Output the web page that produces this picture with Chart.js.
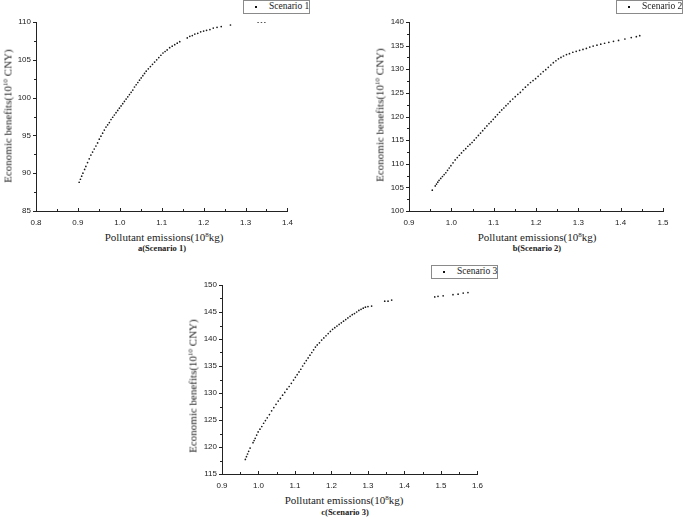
<!DOCTYPE html>
<html>
<head>
<meta charset="utf-8">
<script src="https://cdn.jsdelivr.net/npm/chart.js@4.4.1/dist/chart.umd.min.js"></script>
<style>
    body { margin: 0; background: #fff; width: 685px; height: 517px; position: relative; overflow: hidden; font-family: 'Liberation Serif', 'Times New Roman', serif; color: #222; }
    canvas { position: absolute; }
    .ttl { position: absolute; white-space: nowrap; font-size: 11px; line-height: 1; transform: translate(-50%, -50%); }
    .ttl.rot { transform: translate(-50%, -50%) rotate(-90deg); }
    .sub { position: absolute; white-space: nowrap; font-size: 8.5px; font-weight: bold; line-height: 1; transform: translate(-50%, -50%); }
    sup { font-size: 7px; vertical-align: 4px; line-height: 0; }
    .legend { position: absolute; box-sizing: border-box; border: 1px solid #8a8a8a; background: #fff; font-size: 9.5px; }
    .legend .dot { position: absolute; width: 2px; height: 2px; background: #111; }
    .legend .txt { position: absolute; white-space: nowrap; line-height: 1; }
</style>
</head>
<body>
<canvas id="chartA"></canvas>
<canvas id="chartB"></canvas>
<canvas id="chartC"></canvas>

<script>
// ---- data ----
const xTicks1 = [0.8, 0.9, 1.0, 1.1, 1.2, 1.3, 1.4];
const yTicks1 = [85, 90, 95, 100, 105, 110];
const xTicks2 = [0.9, 1.0, 1.1, 1.2, 1.3, 1.4, 1.5];
const yTicks2 = [100, 105, 110, 115, 120, 125, 130, 135, 140];
const xTicks3 = [0.9, 1.0, 1.1, 1.2, 1.3, 1.4, 1.5, 1.6];
const yTicks3 = [115, 120, 125, 130, 135, 140, 145, 150];

// Scenario 1
const scenario1X = [0.903, 0.906, 0.909, 0.912, 0.916, 0.919, 0.923, 0.927, 0.931, 0.935,
    0.939, 0.943, 0.947, 0.951, 0.955, 0.959, 0.963, 0.967, 0.971, 0.975,
    0.979, 0.983, 0.987, 0.991, 0.995, 0.999, 1.003, 1.007, 1.011, 1.015,
    1.019, 1.023, 1.027, 1.031, 1.035, 1.039, 1.043, 1.047, 1.051, 1.055,
    1.059, 1.063, 1.068, 1.073, 1.078, 1.083, 1.088, 1.093, 1.098, 1.103,
    1.108, 1.113, 1.119, 1.125, 1.131, 1.137, 1.143, 1.161, 1.167, 1.173,
    1.179, 1.186, 1.193, 1.200, 1.207, 1.215, 1.223, 1.232, 1.242, 1.264,
    1.330, 1.338, 1.346];
const scenario1Y = [88.8, 89.2, 89.6, 90.0, 90.5, 90.9, 91.4, 91.9, 92.4, 92.8,
    93.2, 93.6, 94.0, 94.5, 94.9, 95.3, 95.7, 96.1, 96.4, 96.7,
    97.1, 97.4, 97.7, 98.0, 98.3, 98.6, 98.9, 99.2, 99.5, 99.8,
    100.1, 100.4, 100.7, 101.0, 101.4, 101.7, 102.0, 102.3, 102.6, 102.9,
    103.2, 103.5, 103.8, 104.1, 104.4, 104.7, 105.0, 105.3, 105.6, 105.9,
    106.1, 106.3, 106.6, 106.8, 107.0, 107.2, 107.4, 107.9, 108.1, 108.2,
    108.4, 108.5, 108.7, 108.8, 108.9, 109.0, 109.2, 109.3, 109.4, 109.6,
    110.0, 110.0, 110.0];

// Scenario 2
const scenario2X = [0.955, 0.962, 0.965, 0.968, 0.971, 0.975, 0.979, 0.983, 0.987, 0.991,
    0.995, 0.999, 1.004, 1.009, 1.014, 1.019, 1.024, 1.029, 1.034, 1.039,
    1.044, 1.049, 1.054, 1.059, 1.064, 1.069, 1.074, 1.079, 1.084, 1.089,
    1.094, 1.099, 1.104, 1.109, 1.114, 1.119, 1.124, 1.129, 1.134, 1.139,
    1.145, 1.151, 1.157, 1.163, 1.169, 1.175, 1.181, 1.187, 1.193, 1.199,
    1.205, 1.211, 1.217, 1.223, 1.229, 1.235, 1.241, 1.247, 1.253, 1.259,
    1.265, 1.272, 1.279, 1.287, 1.295, 1.303, 1.311, 1.319, 1.327, 1.335,
    1.344, 1.353, 1.362, 1.372, 1.383, 1.395, 1.410, 1.425, 1.437, 1.445];
const scenario2Y = [104.4, 105.3, 105.7, 106.1, 106.5, 106.9, 107.3, 107.7, 108.1, 108.6,
    109.1, 109.6, 110.2, 110.8, 111.3, 111.8, 112.3, 112.8, 113.2, 113.7,
    114.1, 114.5, 115.0, 115.5, 116.0, 116.5, 117.0, 117.5, 118.0, 118.5,
    118.9, 119.4, 119.9, 120.4, 120.9, 121.4, 121.8, 122.3, 122.7, 123.2,
    123.7, 124.2, 124.7, 125.1, 125.7, 126.2, 126.7, 127.2, 127.6, 128.0,
    128.5, 129.0, 129.5, 129.9, 130.4, 130.9, 131.4, 131.8, 132.2, 132.5,
    132.8, 133.1, 133.3, 133.6, 133.8, 134.0, 134.2, 134.4, 134.7, 134.9,
    135.1, 135.3, 135.5, 135.7, 135.9, 136.1, 136.4, 136.7, 136.9, 137.1];

// Scenario 3
const scenario3X = [0.964, 0.967, 0.970, 0.973, 0.977, 0.985, 0.988, 0.991, 0.995, 0.999,
    1.004, 1.009, 1.014, 1.019, 1.024, 1.030, 1.036, 1.042, 1.048, 1.054,
    1.060, 1.066, 1.072, 1.078, 1.084, 1.090, 1.096, 1.101, 1.106, 1.111,
    1.116, 1.121, 1.126, 1.131, 1.136, 1.141, 1.146, 1.151, 1.156, 1.161,
    1.167, 1.173, 1.179, 1.185, 1.191, 1.197, 1.203, 1.209, 1.215, 1.221,
    1.227, 1.233, 1.239, 1.245, 1.251, 1.257, 1.263, 1.269, 1.275, 1.281,
    1.287, 1.293, 1.300, 1.310, 1.346, 1.355, 1.365, 1.483, 1.492, 1.506,
    1.533, 1.547, 1.561, 1.574];
const scenario3Y = [117.7, 118.2, 118.7, 119.2, 119.8, 120.8, 121.2, 121.6, 122.2, 122.8,
    123.3, 123.8, 124.4, 124.9, 125.4, 126.0, 126.7, 127.3, 127.9, 128.5,
    129.0, 129.6, 130.1, 130.7, 131.2, 131.8, 132.4, 132.9, 133.4, 133.9,
    134.4, 135.0, 135.5, 136.0, 136.5, 137.0, 137.5, 138.0, 138.5, 138.9,
    139.3, 139.8, 140.2, 140.6, 141.0, 141.4, 141.8, 142.1, 142.4, 142.7,
    143.0, 143.3, 143.6, 143.9, 144.2, 144.5, 144.7, 145.0, 145.3, 145.5,
    145.7, 145.9, 146.0, 146.1, 147.0, 147.0, 147.2, 147.8, 147.9, 148.0,
    148.2, 148.3, 148.5, 148.6];

// ---- panel layout ----
const panels = [
    { canvasId: 'chartA', label: 'Scenario 1', sub: 'a(Scenario 1)',
      xs: scenario1X, ys: scenario1Y, xTicks: xTicks1, yTicks: yTicks1,
      box: { left: 0, top: 0, w: 300, h: 226 }, plot: { l: 36, t: 22, r: 291, b: 211 },
      legend: { l: 243, t: 0, w: 67, h: 14 },
      xTitle: { x: 164, y: 237 }, yTitle: { x: 8, y: 116 }, subPos: { x: 162, y: 248 } },
    { canvasId: 'chartB', label: 'Scenario 2', sub: 'b(Scenario 2)',
      xs: scenario2X, ys: scenario2Y, xTicks: xTicks2, yTicks: yTicks2,
      box: { left: 370, top: 0, w: 310, h: 226 }, plot: { l: 409, t: 22, r: 663, b: 211 },
      legend: { l: 616, t: 0, w: 67, h: 14 },
      xTitle: { x: 537, y: 237 }, yTitle: { x: 380, y: 115 }, subPos: { x: 537, y: 248 } },
    { canvasId: 'chartC', label: 'Scenario 3', sub: 'c(Scenario 3)',
      xs: scenario3X, ys: scenario3Y, xTicks: xTicks3, yTicks: yTicks3,
      box: { left: 180, top: 270, w: 310, h: 218 }, plot: { l: 222, t: 285, r: 478, b: 474 },
      legend: { l: 431, t: 265, w: 67, h: 14 },
      xTitle: { x: 344, y: 500 }, yTitle: { x: 193, y: 386 }, subPos: { x: 345, y: 512 } }
];

// Origin style ticks: y ticks point outward, x ticks point inward
const tickMarks = {
    id: 'tickMarks',
    afterDraw(chart) {
        const { ctx, scales: { x, y } } = chart;
        const xt = x.ticks.map(t => t.value);
        const yt = y.ticks.map(t => t.value);
        ctx.save();
        ctx.strokeStyle = '#222';
        ctx.lineWidth = 1;
        ctx.beginPath();
        xt.forEach((v, i) => {
            const px = Math.round(x.getPixelForValue(v)) + 0.5;
            ctx.moveTo(px, y.bottom);
            ctx.lineTo(px, y.bottom - 3);
            if (i < xt.length - 1) {
                const m = Math.round(x.getPixelForValue((v + xt[i + 1]) / 2)) + 0.5;
                ctx.moveTo(m, y.bottom);
                ctx.lineTo(m, y.bottom - 2);
            }
        });
        yt.forEach((v, i) => {
            const py = Math.round(y.getPixelForValue(v)) + 0.5;
            ctx.moveTo(x.left, py);
            ctx.lineTo(x.left - 3, py);
            if (i < yt.length - 1) {
                const m = Math.round(y.getPixelForValue((v + yt[i + 1]) / 2)) + 0.5;
                ctx.moveTo(x.left, m);
                ctx.lineTo(x.left - 2, m);
            }
        });
        ctx.stroke();
        ctx.restore();
    }
};

function addText(cls, pos, html) {
    const el = document.createElement('div');
    el.className = cls;
    el.style.left = pos.x + 'px';
    el.style.top = pos.y + 'px';
    el.innerHTML = html;
    document.body.appendChild(el);
}

function addLegend(p) {
    const el = document.createElement('div');
    el.className = 'legend';
    el.style.left = p.legend.l + 'px';
    el.style.top = p.legend.t + 'px';
    el.style.width = p.legend.w + 'px';
    el.style.height = p.legend.h + 'px';
    el.innerHTML = `<span class="dot" style="left:11px;top:${p.legend.h / 2 - 2}px"></span>` +
        `<span class="txt" style="left:25px;top:${p.legend.h / 2 - 6}px">${p.label}</span>`;
    document.body.appendChild(el);
}

function buildPanel(p) {
    const canvas = document.getElementById(p.canvasId);
    canvas.width = p.box.w;
    canvas.height = p.box.h;
    canvas.style.left = p.box.left + 'px';
    canvas.style.top = p.box.top + 'px';

    const tickFont = { family: "'Liberation Sans', Arial, sans-serif", size: 8 };
    const yWidth = p.plot.l - p.box.left;
    const xHeight = p.box.top + p.box.h - p.plot.b;

    new Chart(canvas, {
        type: 'scatter',
        data: {
            datasets: [{
                label: p.label,
                data: p.xs.map((x, i) => ({ x: x, y: p.ys[i] })),
                backgroundColor: '#1a1a1a',
                borderWidth: 0,
                pointRadius: 0.85,
                pointHoverRadius: 0.85
            }]
        },
        options: {
            responsive: false,
            animation: false,
            devicePixelRatio: 1,
            layout: { padding: { top: p.plot.t - p.box.top, right: p.box.left + p.box.w - p.plot.r, left: 0, bottom: 0 } },
            plugins: { legend: { display: false }, tooltip: { enabled: false } },
            scales: {
                x: {
                    type: 'linear',
                    min: p.xTicks[0],
                    max: p.xTicks[p.xTicks.length - 1],
                    afterBuildTicks: s => { s.ticks = p.xTicks.map(v => ({ value: v })); },
                    afterFit: s => { s.height = xHeight; },
                    grid: { drawOnChartArea: false, drawTicks: false },
                    border: { color: '#222', width: 1 },
                    ticks: { padding: 7, color: '#222', font: tickFont, callback: v => v.toFixed(1) }
                },
                y: {
                    type: 'linear',
                    min: p.yTicks[0],
                    max: p.yTicks[p.yTicks.length - 1],
                    afterBuildTicks: s => { s.ticks = p.yTicks.map(v => ({ value: v })); },
                    afterFit: s => { s.width = yWidth; },
                    grid: { drawOnChartArea: false, drawTicks: false },
                    border: { color: '#222', width: 1 },
                    ticks: { padding: 5, color: '#222', font: tickFont }
                }
            }
        },
        plugins: [tickMarks]
    });

    addLegend(p);
    addText('ttl', p.xTitle, 'Pollutant emissions(10<sup>8</sup>kg)');
    addText('ttl rot', p.yTitle, 'Economic benefits(10<sup>10</sup> CNY)');
    addText('sub', p.subPos, p.sub);
}

panels.forEach(buildPanel);
</script>
</body>
</html>
